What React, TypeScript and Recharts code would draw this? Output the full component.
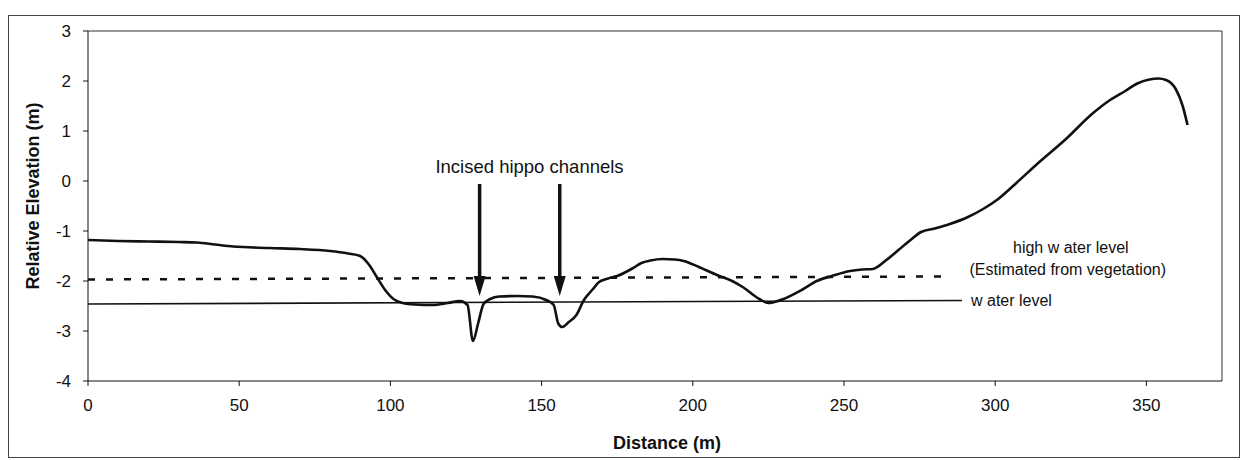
import React from "react";
import {
  Line,
  LineChart,
  ReferenceDot,
  ReferenceLine,
  XAxis,
  YAxis,
} from "recharts";

// ground profile, distance (m) and relative elevation (m)
const groundDistance = [
  0, 10, 20, 30, 36, 42, 48, 60, 70, 80, 86, 90, 93, 95.5, 98.5, 101, 104, 108,
  114, 119, 123, 125.5, 127.3, 129, 130.8, 133, 136, 142, 147, 151.5, 154,
  155.5, 156.8, 159, 161.5, 164, 167, 169, 172, 175, 180, 183, 186, 190, 194,
  197, 202, 208, 213, 216.5, 222, 225, 227, 230, 236, 241, 246, 252, 256,
  259.5, 264, 268, 272, 275.5, 280, 285, 291, 296, 301, 307, 314.6, 323.4, 332,
  338, 343, 347, 351, 354, 356.5, 359.7, 362, 363.6,
];
const groundElevation = [
  -1.18, -1.2, -1.21, -1.22, -1.23, -1.27, -1.31, -1.34, -1.36, -1.4, -1.45,
  -1.5, -1.68, -1.92, -2.2, -2.36, -2.44, -2.47, -2.48, -2.44, -2.4, -2.48,
  -3.2, -2.85, -2.46, -2.36, -2.31, -2.3, -2.31, -2.38, -2.48, -2.85, -2.92,
  -2.82, -2.68, -2.38, -2.16, -2.02, -1.95, -1.9, -1.75, -1.64, -1.59, -1.56,
  -1.57, -1.6, -1.72, -1.88, -2.0, -2.12, -2.36, -2.44, -2.42, -2.36, -2.18,
  -2.0, -1.9, -1.8, -1.77, -1.76, -1.58, -1.38, -1.18, -1.02, -0.95, -0.86,
  -0.72, -0.56, -0.36, -0.04, 0.38, 0.84, 1.34, 1.62, 1.8, 1.95, 2.03, 2.05,
  2.02, 1.84, 1.5, 1.12,
];

const waterDistance = [0, 289];
const waterElevation = [-2.46, -2.39];

const highWaterDistance = [0, 285];
const highWaterElevation = [-1.97, -1.91];

const arrowDistance = [129.5, 156];
const xTicks = [0, 50, 100, 150, 200, 250, 300, 350];
const yTicks = [-4, -3, -2, -1, 0, 1, 2, 3];

const ground = groundDistance.map((x, i) => ({ x, y: groundElevation[i] }));
const water = waterDistance.map((x, i) => ({ x, y: waterElevation[i] }));
const highWater = highWaterDistance.map((x, i) => ({ x, y: highWaterElevation[i] }));

const font = "'Liberation Sans', Arial, sans-serif";

const Arrow = (props: any) => {
  const { x1, y1, x2, y2 } = props;
  const head = 20;
  return (
    <g>
      <line x1={x1} y1={y1} x2={x2} y2={y2 - head + 2} stroke="#111" strokeWidth={3.5} />
      <polygon
        points={`${x2 - 6},${y2 - head} ${x2 + 6},${y2 - head} ${x2},${y2}`}
        fill="#111"
      />
    </g>
  );
};

const textShape = (value: string, size: number, anchor: "start" | "middle" = "middle") =>
  (p: any) => (
    <text
      x={p.cx}
      y={p.cy}
      textAnchor={anchor}
      dominantBaseline="central"
      fontFamily={font}
      fontSize={size}
      fill="#111"
    >
      {value}
    </text>
  );

export default function App() {
  return (
    <div
      style={{
        position: "absolute",
        left: 8,
        top: 15,
        width: 1232,
        height: 443,
        border: "1px solid #444",
        boxSizing: "border-box",
        background: "#fff",
      }}
    >
      <LineChart
        width={1230}
        height={441}
        margin={{ top: 15, right: 17, left: 19, bottom: 36 }}
      >
        <XAxis
          type="number"
          dataKey="x"
          domain={[0, 375]}
          ticks={xTicks}
          allowDataOverflow
          height={40}
          tickSize={5}
          tickMargin={13}
          stroke="#111"
          tick={{ fill: "#111", fontSize: 17, fontFamily: font }}
          label={(p: any) => (
            <text
              x={p.viewBox.x + p.viewBox.width / 2 + 12}
              y={427}
              textAnchor="middle"
              dominantBaseline="central"
              fontFamily={font}
              fontWeight="bold"
              fontSize={18}
              fill="#111"
            >
              Distance (m)
            </text>
          )}
        />
        <YAxis
          type="number"
          domain={[-4, 3]}
          ticks={yTicks}
          allowDataOverflow
          width={60}
          tickSize={5}
          tickMargin={12}
          stroke="#111"
          tick={{ fill: "#111", fontSize: 17, fontFamily: font }}
          label={(p: any) => {
            const cx = p.viewBox.x + 5;
            const cy = p.viewBox.y + p.viewBox.height / 2 - 10;
            return (
              <text
                x={cx}
                y={cy}
                transform={`rotate(-90 ${cx} ${cy})`}
                textAnchor="middle"
                dominantBaseline="central"
                fontFamily={font}
                fontWeight="bold"
                fontSize={18}
                fill="#111"
              >
                Relative Elevation (m)
              </text>
            );
          }}
        />
        <ReferenceLine y={3} stroke="#333" strokeWidth={1} />
        <ReferenceLine x={375} stroke="#333" strokeWidth={1} />

        <Line
          data={water}
          dataKey="y"
          type="linear"
          stroke="#111"
          strokeWidth={1.6}
          dot={false}
          isAnimationActive={false}
        />
        <Line
          data={highWater}
          dataKey="y"
          type="linear"
          stroke="#111"
          strokeWidth={2.5}
          strokeDasharray="7 11"
          dot={false}
          isAnimationActive={false}
        />
        <Line
          data={ground}
          dataKey="y"
          type="monotone"
          stroke="#111"
          strokeWidth={2.6}
          dot={false}
          isAnimationActive={false}
        />

        {arrowDistance.map((d) => (
          <ReferenceLine
            key={d}
            segment={[
              { x: d, y: -0.06 },
              { x: d, y: -2.3 },
            ]}
            shape={Arrow}
          />
        ))}

        <ReferenceDot x={146} y={0.3} shape={textShape("Incised hippo channels", 18.5)} />
        <ReferenceDot x={325} y={-1.32} shape={textShape("high w ater level", 16)} />
        <ReferenceDot x={324} y={-1.77} shape={textShape("(Estimated from vegetation)", 16)} />
        <ReferenceDot x={292} y={-2.39} shape={textShape("w ater level", 16, "start")} />
      </LineChart>
    </div>
  );
}
